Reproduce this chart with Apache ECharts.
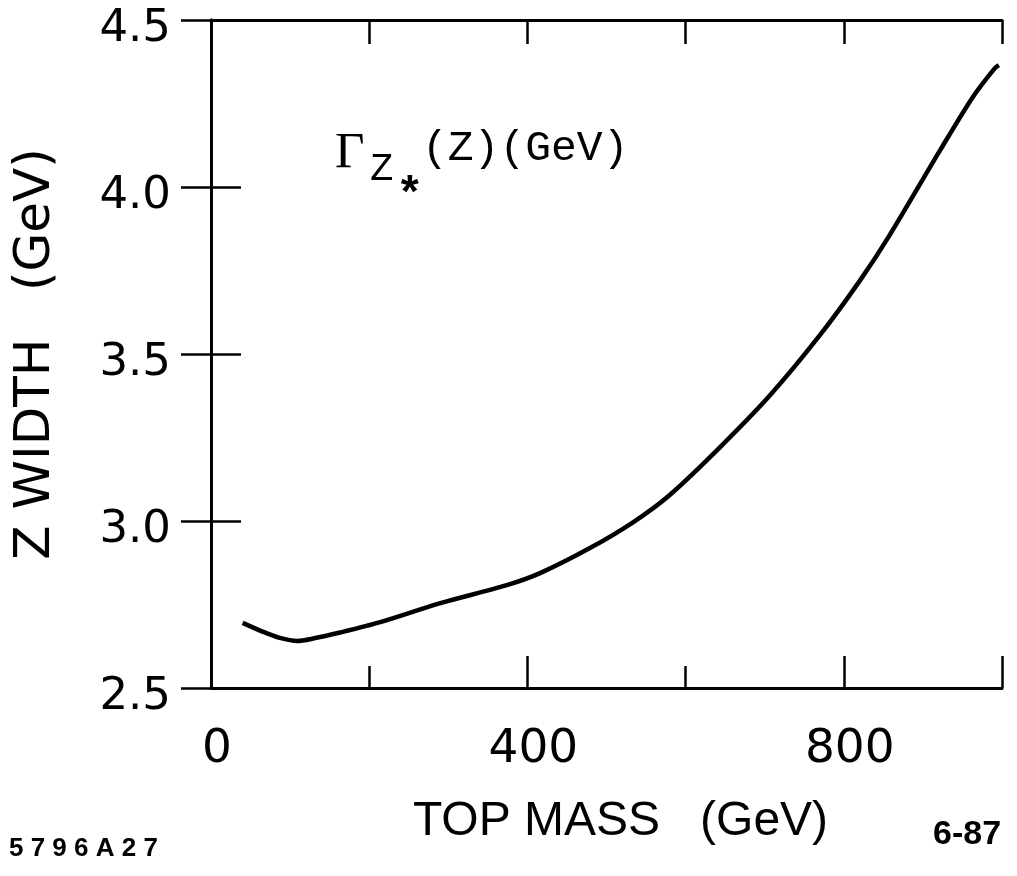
<!DOCTYPE html>
<html>
<head>
<meta charset="utf-8">
<script src="https://cdn.jsdelivr.net/npm/echarts@6/dist/echarts.min.js"></script>
<style>
  html, body { margin: 0; padding: 0; background: #fff; }
  #chart { width: 1017px; height: 876px; }
</style>
</head>
<body>
<div id="chart"></div>
<script>
// values
var topMass = [40, 66, 87, 109, 129, 163, 214, 290, 374, 416, 479, 534, 580, 644, 707, 770, 821, 858, 922, 963, 991, 996];
var zWidth = [2.695, 2.668, 2.650, 2.641, 2.648, 2.666, 2.697, 2.754, 2.808, 2.844, 2.919, 2.997, 3.078, 3.222, 3.377, 3.557, 3.722, 3.856, 4.111, 4.269, 4.356, 4.365];
var xLabels = [0, 400, 800];
var yTicks = [2.5, 3.0, 3.5, 4.0, 4.5];

var chart = echarts.init(document.getElementById('chart'));

var ink = '#000';
var digitFont = 'DejaVu Sans';

var option = {
  backgroundColor: '#ffffff',
  animation: false,
  grid: { left: 211, top: 20, width: 791, height: 668, containLabel: false, outerBoundsMode: 'none' },
  xAxis: [{
    type: 'value', position: 'bottom', min: 0, max: 1000, interval: 400,
    axisLine: { lineStyle: { color: ink, width: 3 } },
    axisTick: { inside: true, length: 32, lineStyle: { color: ink, width: 2.5 } },
    splitLine: { show: false },
    axisLabel: {
      margin: 38, color: ink, fontFamily: digitFont, fontSize: 47, padding: [0, 0, 0, 12],
      formatter: function (v) { return xLabels.indexOf(v) >= 0 ? String(v) : ''; }
    },
    name: 'TOP MASS   (GeV)', nameLocation: 'middle', nameGap: 110,
    nameTextStyle: { color: ink, fontFamily: 'Liberation Sans', fontSize: 48, padding: [0, 0, 0, 28] }
  }, {
    type: 'value', position: 'bottom', min: 0, max: 1000, interval: 200,
    axisLine: { show: false },
    axisTick: { inside: true, length: 22, lineStyle: { color: ink, width: 2.5 } },
    axisLabel: { show: false }, splitLine: { show: false }
  }, {
    type: 'value', position: 'top', min: 0, max: 1000, interval: 200,
    axisLine: { lineStyle: { color: ink, width: 3 } },
    axisTick: { inside: true, length: 24, lineStyle: { color: ink, width: 2.5 } },
    axisLabel: { show: false }, splitLine: { show: false }
  }],
  yAxis: [{
    type: 'value', position: 'left', min: 2.5, max: 4.5, interval: 0.5,
    axisLine: { lineStyle: { color: ink, width: 3 } },
    axisTick: { inside: true, length: 30, lineStyle: { color: ink, width: 2.5 } },
    splitLine: { show: false },
    axisLabel: {
      margin: 40, color: ink, fontFamily: digitFont, fontSize: 45,
      verticalAlign: 'top', lineHeight: 18,
      formatter: function (v) { return yTicks.indexOf(v) >= 0 ? v.toFixed(1) : ''; }
    },
    name: 'Z WIDTH   (GeV)', nameLocation: 'middle', nameGap: 150,
    nameTextStyle: { color: ink, fontFamily: 'DejaVu Sans', fontSize: 50 }
  }, {
    type: 'value', position: 'right', min: 2.5, max: 4.5, interval: 0.5,
    axisLine: { lineStyle: { color: ink, width: 3 } },
    axisTick: { inside: true, length: 30, lineStyle: { color: ink, width: 2.5 } },
    axisLabel: { show: false }, splitLine: { show: false }
  }],
  series: [{
    type: 'line',
    data: topMass.map(function (m, i) { return [m, zWidth[i]]; }),
    smooth: 0.3,
    showSymbol: false,
    lineStyle: { color: ink, width: 4.5 }
  }],
  graphic: [{
    type: 'text', left: 335, top: 128,
    style: { text: 'Γ', fill: ink, font: '51px "Liberation Serif"' }
  }, {
    type: 'text', left: 370, top: 150,
    style: { text: 'Z', fill: ink, font: '39px "Liberation Mono"' }
  }, {
    type: 'text', left: 396, top: 174,
    style: { text: '*', fill: ink, font: 'bold 46px "Liberation Mono"' }
  }, {
    type: 'text', left: 422, top: 127,
    style: { text: '(Z)(GeV)', fill: ink, font: '43px "Liberation Mono"' }
  }, {
    type: 'text', left: 9, top: 836,
    style: { text: '5 7 9 6 A 2 7', fill: ink, font: 'bold 26px "Liberation Sans"' }
  }, {
    type: 'text', left: 933, top: 818,
    style: { text: '6-87', fill: ink, font: 'bold 34px "Liberation Sans"' }
  }]
};

chart.setOption(option);
</script>
</body>
</html>
